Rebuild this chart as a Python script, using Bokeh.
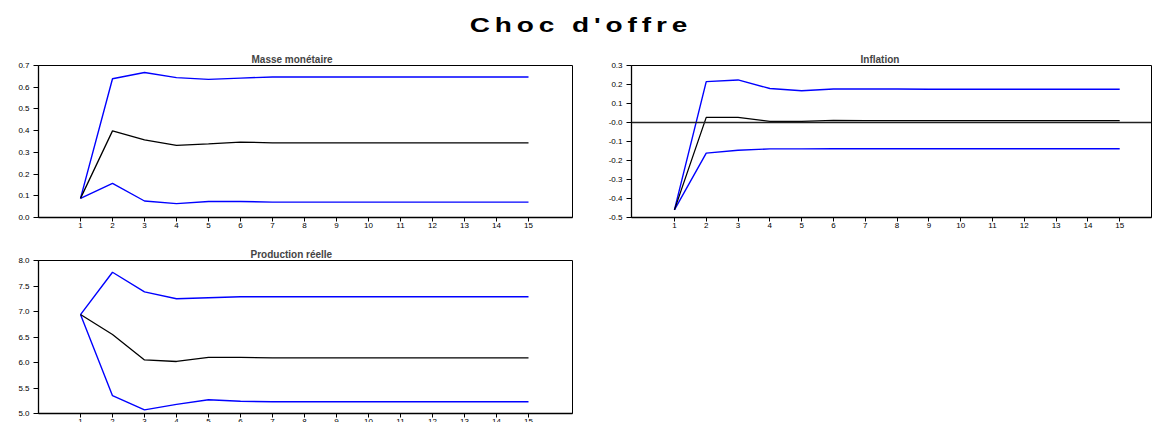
from bokeh.plotting import figure
from bokeh.layouts import column, row
from bokeh.models import Range1d, FixedTicker, Span, Div, Title, PrintfTickFormatter
from bokeh.embed import file_html
from bokeh.resources import INLINE

periods = list(range(1, 16))

masse_resp = [0.088, 0.399, 0.357, 0.332, 0.339, 0.347, 0.344, 0.344, 0.344, 0.344, 0.344, 0.344, 0.344, 0.344, 0.344]
masse_upper = [0.088, 0.639, 0.668, 0.644, 0.636, 0.642, 0.647, 0.647, 0.647, 0.647, 0.647, 0.647, 0.647, 0.647, 0.647]
masse_lower = [0.088, 0.157, 0.076, 0.064, 0.074, 0.074, 0.071, 0.071, 0.071, 0.071, 0.071, 0.071, 0.071, 0.071, 0.071]

infl_resp = [-0.46, 0.027, 0.027, 0.006, 0.006, 0.011, 0.010, 0.010, 0.010, 0.010, 0.010, 0.010, 0.010, 0.010, 0.010]
infl_upper = [-0.46, 0.215, 0.224, 0.179, 0.167, 0.176, 0.176, 0.176, 0.175, 0.175, 0.175, 0.175, 0.175, 0.175, 0.175]
infl_lower = [-0.46, -0.161, -0.146, -0.139, -0.139, -0.138, -0.138, -0.138, -0.138, -0.138, -0.138, -0.138, -0.138, -0.138, -0.138]

prod_resp = [6.94, 6.55, 6.05, 6.02, 6.10, 6.10, 6.09, 6.09, 6.09, 6.09, 6.09, 6.09, 6.09, 6.09, 6.09]
prod_upper = [6.94, 7.77, 7.385, 7.25, 7.27, 7.29, 7.29, 7.29, 7.29, 7.29, 7.29, 7.29, 7.29, 7.29, 7.29]
prod_lower = [6.94, 5.35, 5.07, 5.18, 5.27, 5.24, 5.23, 5.23, 5.23, 5.23, 5.23, 5.23, 5.23, 5.23, 5.23]

masse_ticks = [0.0, 0.1, 0.2, 0.3, 0.4, 0.5, 0.6, 0.7]
infl_ticks = [-0.5, -0.4, -0.3, -0.2, -0.1, 0.0, 0.1, 0.2, 0.3]
prod_ticks = [5.0, 5.5, 6.0, 6.5, 7.0, 7.5, 8.0]

FONT = "Liberation Sans"
BLUE = "#0000FF"


def make_panel(title, resp, upper, lower, yticks, yr, xr, width, height,
               bl, bt, br, bb, title_offset, zero_line=False, overrides=None):
    p = figure(width=width, height=height, output_backend="svg", toolbar_location=None,
               x_range=Range1d(*xr), y_range=Range1d(*yr),
               min_border_left=bl, min_border_top=bt, min_border_right=br, min_border_bottom=bb)
    t = Title(text=title, align="left", offset=title_offset, text_font=FONT,
              text_font_size="10px", text_font_style="bold", standoff=2)
    p.add_layout(t, "above")
    p.grid.visible = False
    p.outline_line_color = "black"
    p.outline_line_width = 1
    p.outline_line_alpha = 1
    for ax in (p.xaxis[0], p.yaxis[0]):
        ax.axis_line_color = "black"
        ax.axis_line_width = 1.3
        ax.major_tick_line_color = "black"
        ax.minor_tick_line_color = None
        ax.major_tick_in = 0
        ax.major_label_text_font = FONT
        ax.major_label_text_color = "black"
    p.xaxis.ticker = FixedTicker(ticks=periods)
    p.xaxis.major_tick_out = 4
    p.xaxis.major_label_text_font_size = "8px"
    p.xaxis.major_label_standoff = 1
    p.yaxis.ticker = FixedTicker(ticks=yticks)
    p.yaxis.formatter = PrintfTickFormatter(format="%.1f")
    p.yaxis.major_tick_out = 5
    p.yaxis.major_label_text_font_size = "8px"
    p.yaxis.major_label_standoff = 4
    if overrides:
        p.yaxis.major_label_overrides = overrides
    if zero_line:
        p.add_layout(Span(location=0, dimension="width", line_color="#222222", line_width=1.6))
    p.line(periods, upper, line_color=BLUE, line_width=1.4)
    p.line(periods, lower, line_color=BLUE, line_width=1.4)
    p.line(periods, resp, line_color="black", line_width=1.3)
    return p


title_div = Div(text="Choc d'offre", width=1152, height=37,
                styles={"text-align": "center", "font-family": "'Liberation Sans', Arial, sans-serif",
                        "font-weight": "bold", "font-size": "20px", "line-height": "40px",
                        "letter-spacing": "3.5px", "transform": "scaleX(1.4)",
                        "transform-origin": "576px 50%", "width": "1152px", "color": "black"})

p1 = make_panel("Masse monétaire", masse_resp, masse_upper, masse_lower, masse_ticks,
                (0.0, 0.7), (-0.3125, 16.375), 590, 192, 38, 17, 18, 22, 213)
p2 = make_panel("Inflation", infl_resp, infl_upper, infl_lower, infl_ticks,
                (-0.5, 0.3), (-0.35, 16.0), 562, 192, 41, 18, 1, 22, 229,
                zero_line=True, overrides={0: "-0.0"})
p3 = make_panel("Production réelle", prod_resp, prod_upper, prod_lower, prod_ticks,
                (5.0, 8.0), (-0.3125, 16.375), 590, 188, 38, 21, 18, 14, 212)

layout = column(title_div, row(p1, p2), row(p3))

open("out.html", "w").write(file_html(layout, INLINE))
